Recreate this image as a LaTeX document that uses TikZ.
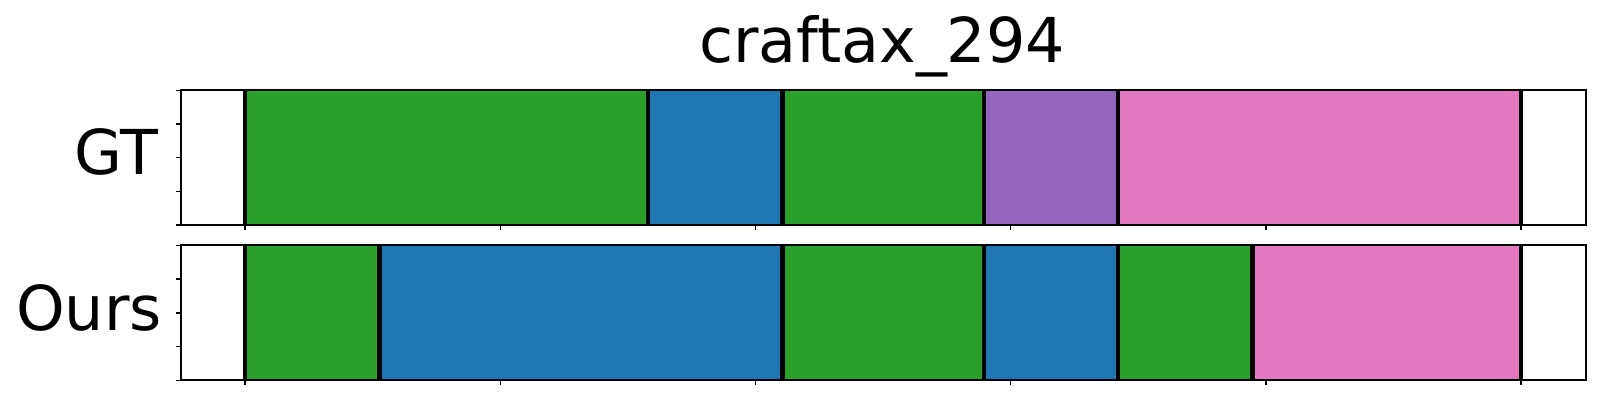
\documentclass[tikz,border=0pt]{standalone}
\usepackage{fontspec}
\setmainfont{DejaVu Sans}
\definecolor{tgreen}{HTML}{2CA02C}
\definecolor{tblue}{HTML}{1F77B4}
\definecolor{tpurple}{HTML}{9467BD}
\definecolor{tpink}{HTML}{E377C2}
\tikzset{
  bigtext/.style={font=\fontsize{17.6}{21}\selectfont, inner sep=0pt},
  frame/.style={draw=black, line width=1.9*0.01cm},
  bound/.style={draw=black, line width=4.5*0.01cm},
  tick/.style={draw=black, line width=1.4*0.01cm},
}
\begin{document}
\begin{tikzpicture}[x=0.01cm,y=-0.01cm]
\useasboundingbox (0,0) rectangle (1600,400);
\def\ux{67.16}
% title and labels
\node[bigtext, anchor=base] (title) at (882,62.7) {craftax\_294};
\node[bigtext, anchor=base east] (gt) at (158.8,174.6) {GT};
\node[bigtext, anchor=base east] (ours) at (162.5,330) {Ours};
% GT segments
\foreach \a/\b/\c in {0/6/tgreen,6/8/tblue,8/11/tgreen,11/13/tpurple,13/19/tpink}
  \fill[\c] ({245+\ux*\a},90.3) rectangle ({245+\ux*\b},225);
\foreach \a in {0,6,8,11,13,19}
  \draw[bound] ({245+\ux*\a},90.3) -- ({245+\ux*\a},225);
% Ours segments
\foreach \a/\b/\c in {0/2/tgreen,2/8/tblue,8/11/tgreen,11/13/tblue,13/15/tgreen,15/19/tpink}
  \fill[\c] ({245+\ux*\a},245.3) rectangle ({245+\ux*\b},380.3);
\foreach \a in {0,2,8,11,13,15,19}
  \draw[bound] ({245+\ux*\a},245.3) -- ({245+\ux*\a},380.3);
% frames
\draw[frame] (181.3,90.3) rectangle (1585.7,225);
\draw[frame] (181.3,245.3) rectangle (1585.7,380.3);
% ticks
\foreach \k in {0,...,5} {
  \draw[tick] ({245+255.2*\k},225) -- ({245+255.2*\k},230);
  \draw[tick] ({245+255.2*\k},380.3) -- ({245+255.2*\k},385.3);
}
\foreach \k in {0,...,4} {
  \draw[tick] (181.3,{90.3+33.675*\k}) -- (176.3,{90.3+33.675*\k});
  \draw[tick] (181.3,{245.3+33.75*\k}) -- (176.3,{245.3+33.75*\k});
}
\end{tikzpicture}
\end{document}
